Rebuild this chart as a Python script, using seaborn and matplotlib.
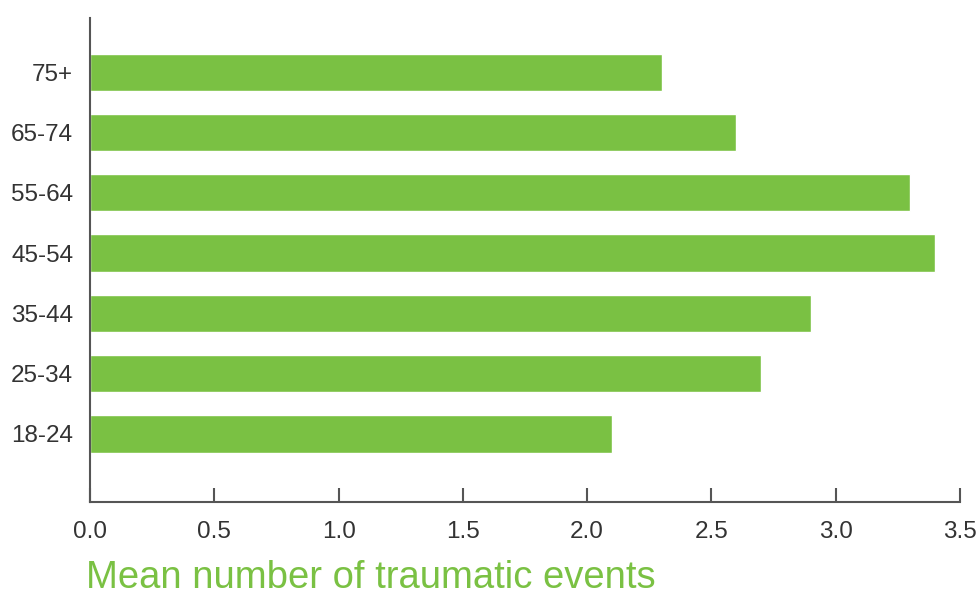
import numpy as np
import pandas as pd
import seaborn as sns
import matplotlib.pyplot as plt

# age groups, top to bottom as drawn
age_groups = ["75+", "65-74", "55-64", "45-54", "35-44", "25-34", "18-24"]
mean_events = [2.3, 2.6, 3.3, 3.4, 2.9, 2.7, 2.1]
x_ticks = [0.0, 0.5, 1.0, 1.5, 2.0, 2.5, 3.0, 3.5]

df = pd.DataFrame({"age": age_groups, "mean": mean_events})

sns.set_style("white")
plt.rcParams['font.family'] = ['Liberation Sans', 'DejaVu Sans']

green = "#7AC143"
axis_col = "#555555"
text_col = "#333333"

fig = plt.figure(figsize=(9.79, 5.96), dpi=100)
ax = fig.add_axes([90 / 979, 1 - 502 / 596, 870 / 979, 484 / 596])

sns.barplot(data=df, x="mean", y="age", order=age_groups, color=green,
            saturation=1, width=0.62, ax=ax)

ax.set_xlim(0, 3.5)
ax.set_ylim(7.13, -0.9)
ax.set_xticks(x_ticks)
ax.set_xticklabels([f"{t:.1f}" for t in x_ticks])

sns.despine(ax=ax, top=True, right=True)
for side in ["left", "bottom"]:
    ax.spines[side].set_color(axis_col)
    ax.spines[side].set_linewidth(1.5)
    ax.spines[side].set_zorder(5)

ax.tick_params(axis="x", bottom=True, direction="in", length=10, width=1.5,
               color=axis_col, labelsize=17.5, labelcolor=text_col, pad=14)
ax.tick_params(axis="y", left=False, length=0, labelsize=17.5,
               labelcolor=text_col, pad=12)

ax.set_ylabel("")
ax.set_xlabel("Mean number of traumatic events", fontsize=27.5, color=green,
              ha="left", va="top")
ax.xaxis.set_label_coords(-0.005, -0.12)

fig.savefig("out.png", dpi=100)
